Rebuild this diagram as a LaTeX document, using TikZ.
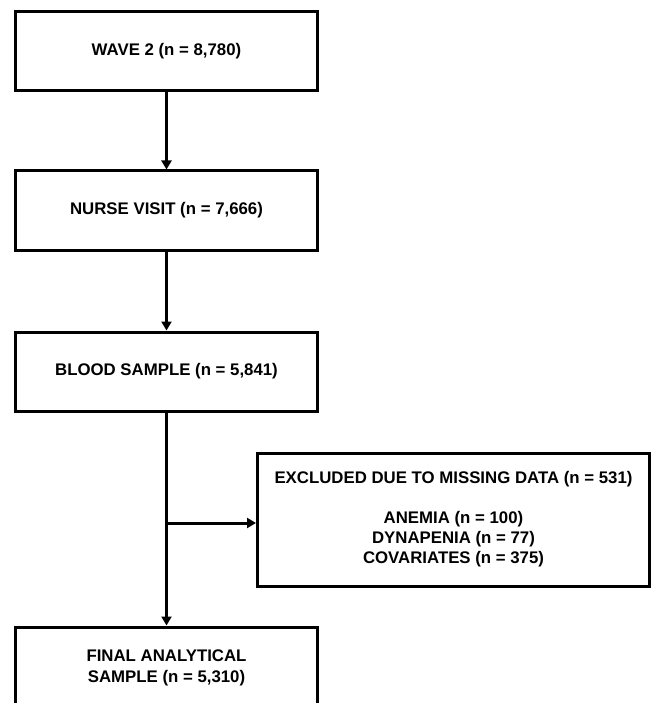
\documentclass[tikz,border=0pt]{standalone}
\usepackage{fontspec}
\setmainfont{Liberation Sans}
\usetikzlibrary{arrows.meta}
\begin{document}
\begin{tikzpicture}[x=1pt,y=-1pt,
  box/.style={draw, line width=3pt, minimum width=302pt, minimum height=79pt,
    font=\fontsize{16.8pt}{20pt}\selectfont\bfseries, align=center, inner sep=0pt},
  arr/.style={line width=3pt, -{Triangle[width=10pt,length=9pt]}},
  ln/.style={line width=3pt}]
\useasboundingbox (0,0) rectangle (654,703);
\clip (0,0) rectangle (654,703);
\node[box] (w2) at (166.5,51) {WAVE 2 (n = 8,780)};
\node[box] (nv) at (166.5,210.5) {NURSE VISIT (n = 7,666)};
\node[box] (bs) at (166.5,371.5) {BLOOD SAMPLE (n = 5,841)};
\node[box, minimum width=392pt, minimum height=133pt] (ex) at (453.5,519.5)
  {EXCLUDED DUE TO MISSING DATA (n = 531)\\[20pt]ANEMIA (n = 100)\\DYNAPENIA (n = 77)\\COVARIATES (n = 375)};
\node[box, minimum height=81pt, font=\fontsize{16.8pt}{21pt}\selectfont\bfseries] (fs) at (166.5,667.5) {FINAL ANALYTICAL\\SAMPLE (n = 5,310)};
\coordinate (j) at (166.5,523);
\draw[arr] (w2) -- (nv);
\draw[arr] (nv) -- (bs);
\draw[arr] (bs) -- (fs);
\draw[arr] (j) -- (j -| ex.west);
\end{tikzpicture}
\end{document}
